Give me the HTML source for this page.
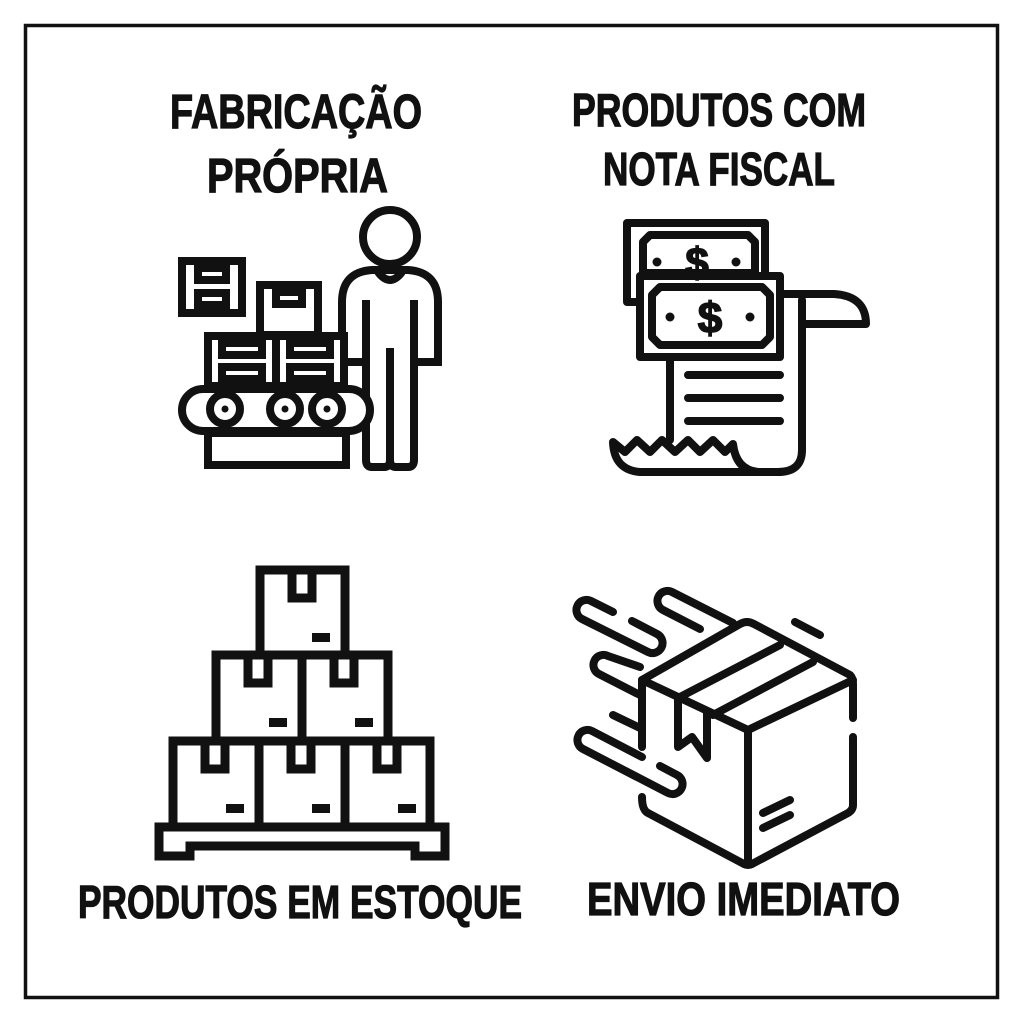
<!DOCTYPE html>
<html><head><meta charset="utf-8"><style>html,body{margin:0;padding:0;background:#fff}svg{display:block}
text{font-family:"Liberation Sans Narrow","Liberation Sans",sans-serif;font-weight:bold;fill:#111}
.t{stroke:#111;stroke-width:1.2}</style></head>
<body>
<svg width="1024" height="1024" viewBox="0 0 1024 1024" xmlns="http://www.w3.org/2000/svg">
<rect x="0" y="0" width="1024" height="1024" fill="#fff"/>
<rect x="25.5" y="25.5" width="972" height="972" fill="none" stroke="#111" stroke-width="3.5"/>

<text class="t" x="170" y="128" font-size="48" textLength="252" lengthAdjust="spacingAndGlyphs">FABRICAÇÃO</text>
<text class="t" x="207" y="192" font-size="48" textLength="181" lengthAdjust="spacingAndGlyphs">PRÓPRIA</text>
<text class="t" x="572" y="126" font-size="46" textLength="294" lengthAdjust="spacingAndGlyphs">PRODUTOS COM</text>
<text class="t" x="603" y="185" font-size="46" textLength="232" lengthAdjust="spacingAndGlyphs">NOTA FISCAL</text>
<text class="t" x="78" y="918" font-size="46" textLength="444" lengthAdjust="spacingAndGlyphs">PRODUTOS EM ESTOQUE</text>
<text class="t" x="587" y="915" font-size="46" textLength="313" lengthAdjust="spacingAndGlyphs">ENVIO IMEDIATO</text>

<!-- factory -->
<g fill="none" stroke="#111" stroke-width="8" stroke-linejoin="miter">
  <circle cx="390" cy="237" r="27"/>
  <path d="M342,362 L342,302 Q342,272 372,270 L408,270 Q438,272 438,302 L438,362 L414,362"/>
  <path d="M342,362 L366,362"/>
  <path d="M378,272 Q390,288 402,272"/>
  <path d="M366,300 L366,460 Q366,467 372,467 L384,467 Q390,467 390,460 L390,348 L390,460 Q390,467 396,467 L408,467 Q414,467 414,460 L414,300"/>
  <rect x="182" y="261" width="60" height="52" fill="#fff"/>
  <rect x="198" y="268" width="28" height="12"/><rect x="198" y="293" width="28" height="12"/>
  <rect x="260" y="285" width="58" height="50" fill="#fff"/>
  <rect x="276" y="292" width="26" height="12"/>
  <rect x="208" y="336" width="136" height="50" fill="#fff"/>
  <line x1="276" y1="336" x2="276" y2="386"/>
  <rect x="222" y="343" width="40" height="12"/><rect x="290" y="343" width="40" height="12"/>
  <rect x="222" y="367" width="40" height="12"/><rect x="290" y="367" width="40" height="12"/>
  <rect x="182" y="389" width="188" height="42" rx="21" fill="#fff"/>
  <circle cx="225" cy="409" r="15" fill="#fff"/><circle cx="285" cy="409" r="15" fill="#fff"/><circle cx="327" cy="409" r="15" fill="#fff"/>
  <rect x="208" y="433" width="138" height="32" fill="#fff"/>
</g>
<g fill="#111"><circle cx="225" cy="409" r="3.5"/><circle cx="285" cy="409" r="3.5"/><circle cx="327" cy="409" r="3.5"/></g>

<!-- receipt -->
<g fill="none" stroke="#111" stroke-width="8" stroke-linejoin="round" stroke-linecap="round">
  <path d="M781,294 L834,294 Q866,296 866,324 L802,324"/>
  <path d="M670,357 L670,440 M802,300 L802,450 Q802,472 778,472 L640,472 Q614,470 613,442 L625,452 L637,440 L650,452 L662,440 L675,452 L688,440 L700,452 L713,440 L725,452 L733,444 Q736,470 758,472"/>
  <path d="M688,375 L780,375 M688,398 L780,398 M688,421 L780,421"/>
  <rect x="627" y="223" width="138" height="79" fill="#fff"/>
  <path d="M650,235 L748,235 L755,242 L755,273 L643,273 L643,242 Z" fill="#fff"/>
  <rect x="640" y="276" width="140" height="81" fill="#fff"/>
  <path d="M660,287 L762,287 L770,295 L770,337 L762,345 L660,345 L652,337 L652,295 Z" fill="#fff"/>
</g>
<g fill="#111">
  <circle cx="657" cy="262" r="4.5"/><circle cx="736" cy="262" r="4.5"/>
  <circle cx="670" cy="317" r="4.5"/><circle cx="750" cy="317" r="4.5"/>
  <text x="697" y="277" font-size="42" text-anchor="middle" font-family="Liberation Sans" stroke="#111" stroke-width="1.5">$</text>
  <text x="710" y="333" font-size="44" text-anchor="middle" font-family="Liberation Sans" stroke="#111" stroke-width="1.5">$</text>
</g>

<!-- pallet -->
<g fill="none" stroke="#111" stroke-width="9">
  <rect x="260" y="570" width="85" height="85"/>
  <rect x="216" y="655" width="86" height="86"/><rect x="302" y="655" width="86" height="86"/>
  <rect x="173" y="741" width="86" height="86"/><rect x="259" y="741" width="86" height="86"/><rect x="345" y="741" width="85" height="86"/>
  <path d="M159,827 L445,827 L445,856 L415,856 L415,846 L190,846 L190,856 L159,856 Z"/>
  <path d="M292,570 V598 H312 V570"/>
  <path d="M248,655 V683 H268 V655 M334,655 V683 H354 V655"/>
  <path d="M205,741 V769 H225 V741 M291,741 V769 H311 V741 M377,741 V769 H397 V741"/>
</g>
<g fill="#111">
  <rect x="312" y="633" width="18" height="9"/>
  <rect x="269" y="718" width="18" height="9"/><rect x="355" y="718" width="18" height="9"/>
  <rect x="226" y="804" width="18" height="9"/><rect x="312" y="804" width="18" height="9"/><rect x="398" y="804" width="18" height="9"/>
</g>

<!-- box -->
<g fill="none" stroke="#111" stroke-width="8" stroke-linejoin="round" stroke-linecap="round">
  <path d="M642,747 L642,680 L740,624 Q747,620 754,624 L850,675 Q853,678 853,684 L853,718"/>
  <path d="M853,737 L853,805 Q853,810 848,813 L752,864 Q748,866 744,864 L648,813 Q642,810 642,797"/>
  <path d="M642,680 L748,730 L853,680 M748,730 L748,864"/>
  <path d="M678,698 L780,645 M713,715 L813,662"/>
  <path d="M678,698 L678,747 L692,737 L707,758 L707,713"/>
  <path d="M763,813 L790,800 M763,828 L790,815"/>
  <path d="M613,612 L591,601 A10 10 0 0 0 582,619 L648,652 A10 10 0 0 0 657,634 L632,621"/>
  <path d="M733,623 L672,592 A10 10 0 0 0 663,610 L700,629"/>
  <path d="M640,667 L608,656 A10 10 0 0 0 599,674 L640,695"/>
  <path d="M613,715 L640,728"/>
  <path d="M642,757 L592,731 A10 10 0 0 0 583,749 L668,793 A10 10 0 0 0 677,775 L660,766"/>
  <path d="M795,622 L820,635"/>
</g>
</svg>
</body></html>
